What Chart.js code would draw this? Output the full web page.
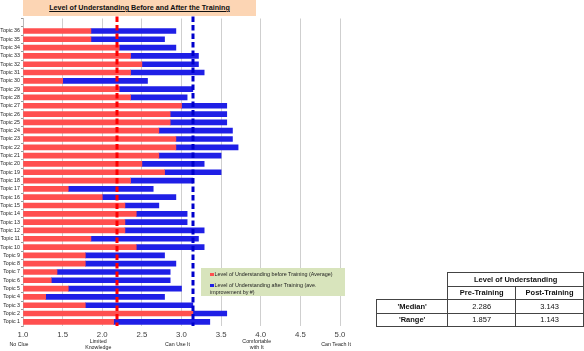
<!DOCTYPE html>
<html>
<head>
<meta charset="utf-8">
<script src="https://cdn.jsdelivr.net/npm/chart.js@4/dist/chart.umd.min.js"></script>
<style>
  body { margin: 0; background: #fff; font-family: "Liberation Sans", Arial, sans-serif; }
  #wrap { position: relative; width: 584px; height: 351px; }
  #title {
    position: absolute; left: 23px; top: 0; width: 233px; height: 16px;
    background: #fcd5b4; text-align: center; line-height: 16px;
    font-size: 7.2px; font-weight: bold; text-decoration: underline; color: #111;
  }
  #legend {
    position: absolute; left: 201px; top: 268px; width: 144px; height: 28px;
    background: #d8e4bc; font-size: 5.4px; color: #222; line-height: 6.5px;
  }
  #legend .item { position: absolute; left: 9px; }
  #legend .sw { display: inline-block; width: 3.5px; height: 3.5px; margin-right: 1px; }
  #stats {
    position: absolute; left: 376px; top: 272px; border-collapse: collapse;
    font-size: 7.5px; color: #111;
  }
  #stats td { border: 1px solid #444; text-align: center; height: 12.5px; padding: 0; }
  #stats td.blank { border: none; }
  #stats .b { font-weight: bold; }
</style>
</head>
<body>
<div id="wrap">
  <canvas id="chart" width="584" height="351"></canvas>
  <div id="title">Level of Understanding Before and After the Training</div>
  <div id="legend">
    <div class="item" style="top:3px"><span class="sw" style="background:#ff4f4f"></span>Level of Understanding before Training (Average)</div>
    <div class="item" style="top:14px"><span class="sw" style="background:#1f1fe6"></span>Level of Understanding after Training (ave.<br>improvement by #)</div>
  </div>
  <table id="stats">
    <tr><td class="blank" style="width:71px"></td><td class="b" colspan="2">Level of Understanding</td></tr>
    <tr><td class="blank"></td><td class="b" style="width:67px">Pre-Training</td><td class="b" style="width:67px">Post-Training</td></tr>
    <tr><td class="b">'Median'</td><td>2.286</td><td>3.143</td></tr>
    <tr><td class="b">'Range'</td><td>1.857</td><td>1.143</td></tr>
  </table>
</div>
<script>
// Topic 1 .. Topic 36 (bottom to top), last label is the empty row at the top
var topics = ['Topic 1','Topic 2','Topic 3','Topic 4','Topic 5','Topic 6','Topic 7','Topic 8','Topic 9','Topic 10',
  'Topic 11','Topic 12','Topic 13','Topic 14','Topic 15','Topic 16','Topic 17','Topic 18','Topic 19','Topic 20',
  'Topic 21','Topic 22','Topic 23','Topic 24','Topic 25','Topic 26','Topic 27','Topic 28','Topic 29','Topic 30',
  'Topic 31','Topic 32','Topic 33','Topic 34','Topic 35','Topic 36',''];
var preTraining = [2.143, 3.143, 1.786, 1.286, 1.571, 1.357, 1.429, 1.786, 1.786, 2.429,
  1.857, 2.286, 2.286, 2.429, 2.286, 2.0, 1.571, 2.357, 2.786, 2.5,
  2.714, 2.929, 2.929, 2.714, 2.857, 2.857, 3.0, 2.357, 2.214, 1.5,
  2.357, 2.5, 2.357, 2.214, 1.857, 1.857];
var postTraining = [3.357, 3.571, 3.143, 2.786, 3.0, 2.857, 2.857, 2.929, 2.786, 3.286,
  3.214, 3.286, 3.071, 3.071, 2.714, 2.929, 2.643, 3.143, 3.5, 3.286,
  3.5, 3.714, 3.643, 3.643, 3.571, 3.571, 3.571, 3.071, 3.143, 2.571,
  3.286, 3.214, 3.214, 2.929, 2.786, 2.929];
var refLines = [2.19, 3.14];
var refColors = ['#ff0000', '#0000cc'];
var levelValues = [1, 2, 3, 4, 5];
var levelLabels = [['No Clue'], ['Limited', 'Knowledge'], ['Can Use It'], ['Comfortable', 'with It'], ['Can Teach It']];

var postBars = [];
preTraining.forEach((p, i) => {
    postBars.push([p, postTraining[i]]);
});

const extras = {
    id: 'extras',
    afterDatasetsDraw(chart) {
        const c = chart.ctx;
        const xs = chart.scales.x;
        const top = chart.chartArea.top - 2;
        const bottom = chart.chartArea.bottom;
        c.save();
        refLines.forEach((v, i) => {
            const x = Math.round(xs.getPixelForValue(v));
            c.strokeStyle = refColors[i];
            c.lineWidth = 3;
            c.setLineDash([5.5, 3]);
            c.beginPath();
            c.moveTo(x, top);
            c.lineTo(x, bottom);
            c.stroke();
        });
        c.restore();
    },
    afterDraw(chart) {
        const c = chart.ctx;
        const xs = chart.scales.x;
        c.save();
        c.fillStyle = '#222';
        c.font = '5.3px "Liberation Sans", Arial, sans-serif';
        c.textAlign = 'center';
        c.textBaseline = 'middle';
        levelValues.forEach((v, i) => {
            const x = xs.getPixelForValue(v) - 4;
            const lines = levelLabels[i];
            if (lines.length == 1) {
                c.fillText(lines[0], x, 345);
            } else {
                c.fillText(lines[0], x, 342);
                c.fillText(lines[1], x, 348);
            }
        });
        c.restore();
    }
};

const ctx = document.getElementById('chart').getContext('2d');
var chart1 = new Chart(ctx, {
    type: 'bar',
    data: {
        labels: topics,
        datasets: [
            {
                label: 'Level of Understanding before Training (Average)',
                data: preTraining,
                base: 1,
                backgroundColor: '#ff4f4f',
                barThickness: 5,
                grouped: false
            },
            {
                label: 'Level of Understanding after Training (ave. improvement by #)',
                data: postBars,
                backgroundColor: '#1f1fe6',
                barThickness: 5,
                grouped: false
            }
        ]
    },
    options: {
        indexAxis: 'y',
        responsive: false,
        animation: false,
        layout: { padding: { top: 18.5, right: 244, left: 0, bottom: 0 } },
        plugins: {
            legend: { display: false },
            tooltip: { enabled: false }
        },
        scales: {
            x: {
                min: 1,
                max: 5,
                ticks: {
                    stepSize: 0.5,
                    padding: 4,
                    color: '#404040',
                    font: { family: '"Liberation Sans", Arial, sans-serif', size: 7.8 },
                    callback: v => v.toFixed(1)
                },
                grid: { color: '#cfcfcf', drawTicks: false },
                border: { display: false },
                afterFit: s => { s.height = 25; }
            },
            y: {
                reverse: true,
                ticks: {
                    autoSkip: false,
                    padding: 1,
                    color: '#222',
                    font: { family: '"Liberation Sans", Arial, sans-serif', size: 5.3 }
                },
                grid: { offset: true, drawOnChartArea: false, tickLength: 2, color: '#999' },
                border: { display: true, color: '#bbb' },
                afterFit: s => { s.width = 23; }
            }
        }
    },
    plugins: [extras]
});
</script>
</body>
</html>
